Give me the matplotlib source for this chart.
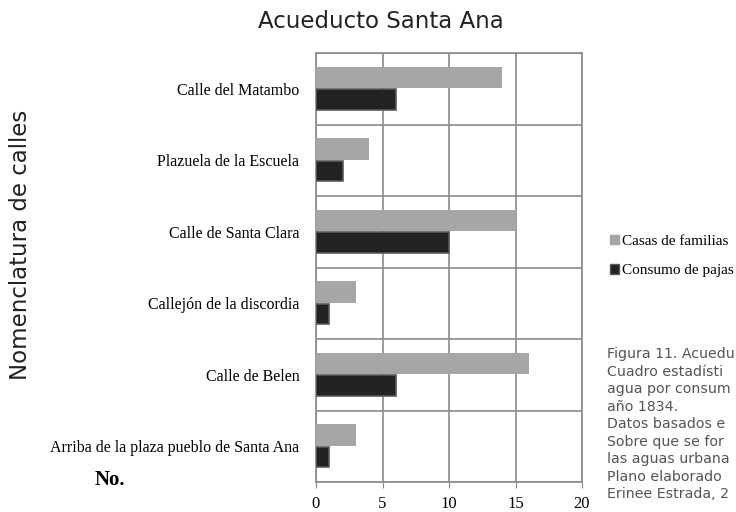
import numpy as np
import matplotlib.pyplot as plt
from matplotlib.patches import Patch

# Data
calles = ['Calle del Matambo', 'Plazuela de la Escuela', 'Calle de Santa Clara',
          'Callejón de la discordia', 'Calle de Belen',
          'Arriba de la plaza pueblo de Santa Ana']
casas = [14, 4, 15, 3, 16, 3]
pajas = [6, 2, 10, 1, 6, 1]
ticks_x = [0, 5, 10, 15, 20]
series = ['Casas de familias', 'Consumo de pajas']
# note on the right, cut at the page edge in the original
nota = ['Figura 11. Acuedu',
        'Cuadro estadísti',
        'agua por consum',
        'año 1834.',
        'Datos basados e',
        'Sobre que se for',
        'las aguas urbana',
        'Plano elaborado',
        'Erinee Estrada, 2']

serif = 'Liberation Serif'
sans = 'DejaVu Sans'
gris = '#a6a6a6'
negro = '#222222'

fig = plt.figure(figsize=(7.36, 5.12), dpi=100)
ax = fig.add_axes([316/736, 1 - 482/512, 266/736, 429/512])

y = np.arange(len(calles))[::-1]
ax.barh(y + 0.16, casas, height=0.3, color=gris, zorder=3)
ax.barh(y - 0.15, pajas, height=0.29, color=negro, edgecolor='#5a5a5a',
        linewidth=1.2, zorder=3)

ax.set_xlim(0, 20)
ax.set_ylim(-0.5, 5.5)
ax.set_xticks(ticks_x)
ax.set_xticklabels([str(t) for t in ticks_x], fontfamily=serif, fontsize=12)
ax.set_yticks(y)
ax.set_yticklabels(calles, fontfamily=serif, fontsize=11.5)
ax.tick_params(axis='y', length=0, pad=12)
ax.tick_params(axis='x', length=4, color='#888888', pad=6)
ax.set_yticks(np.arange(-0.5, 6, 1), minor=True)
ax.tick_params(axis='y', which='minor', length=0)
ax.grid(axis='x', color='#8a8a8a', linewidth=1.2, zorder=0)
ax.grid(axis='y', which='minor', color='#8a8a8a', linewidth=1.2, zorder=0)
for s in ax.spines.values():
    s.set_color('#8a8a8a')
    s.set_linewidth(1.2)

fig.text(381/736, 1 - 22/512, 'Acueducto Santa Ana', ha='center', va='center',
         fontfamily=sans, fontsize=16.5, color='#222222')
fig.text(21/736, 1 - 245/512, 'Nomenclatura de calles', rotation=90,
         ha='center', va='center', fontfamily=sans, fontsize=16.5,
         color='#222222')
fig.text(125/736, 1 - 480/512, 'No.', ha='right', va='center',
         fontfamily=serif, fontsize=15, fontweight='bold')

handles = [Patch(color=gris), Patch(facecolor=negro, edgecolor='#5a5a5a')]
leg = fig.legend(handles, series, loc='upper left',
                 bbox_to_anchor=(596/736, 1 - 221/512), frameon=False,
                 fontsize=11, handlelength=0.6, handleheight=0.6,
                 handletextpad=0.2, labelspacing=1.05)
for t in leg.get_texts():
    t.set_fontfamily(serif)

fig.text(607/736, 1 - 347/512, '\n'.join(nota), ha='left', va='top',
         fontfamily=sans, fontsize=10.2, color='#555555', linespacing=1.32)

fig.savefig('out.png', dpi=100)
